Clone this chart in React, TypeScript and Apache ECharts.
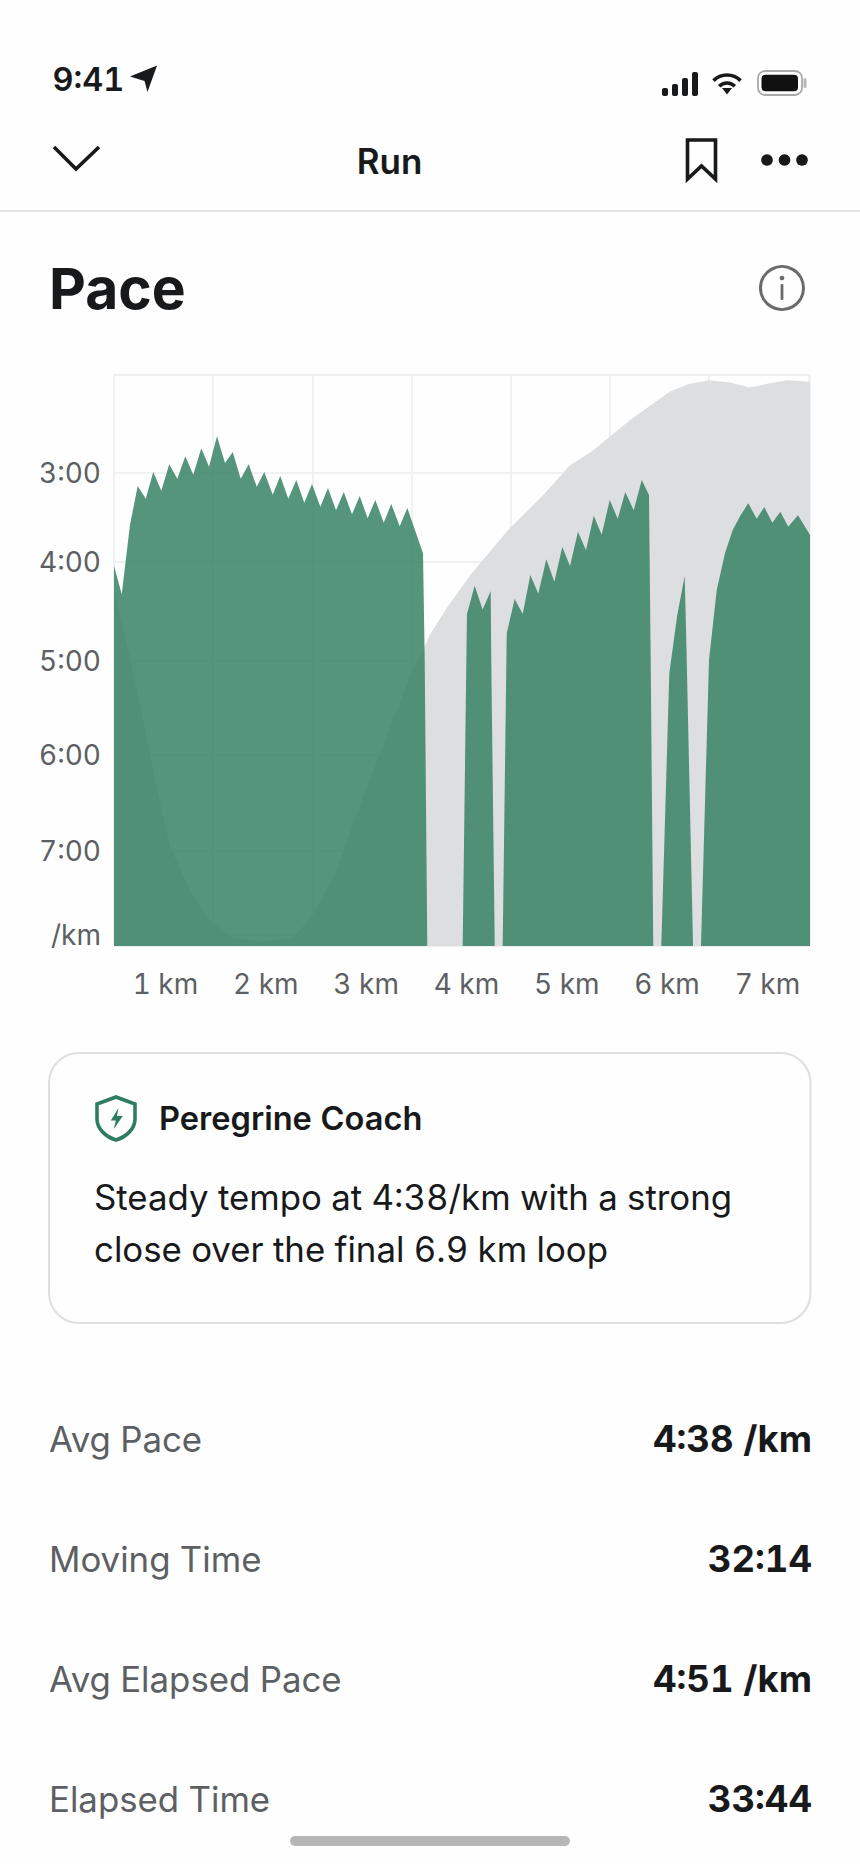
import React, { useEffect, useRef } from 'react';
import * as echarts from 'echarts';

// pace trace: km along the run, minutes per km (8.294 = stopped, the bottom of the axis)
const paceKm = [
	0, 0.078, 0.161, 0.239, 0.32, 0.396, 0.477, 0.557, 0.638, 0.719, 0.799, 0.88, 0.958, 1.038, 1.119, 1.197, 1.277,
	1.358, 1.439, 1.515, 1.6, 1.676, 1.757, 1.838, 1.918, 1.996, 2.08, 2.157, 2.238, 2.316, 2.399, 2.477, 2.557, 2.634,
	2.719, 2.795, 2.88, 2.957, 3.115, 3.132, 3.158, 3.515, 3.558, 3.636, 3.716, 3.797, 3.803, 3.838, 3.918, 3.959,
	4.039, 4.12, 4.197, 4.277, 4.358, 4.439, 4.519, 4.597, 4.677, 4.758, 4.836, 4.916, 4.997, 5.078, 5.154, 5.239, 5.32,
	5.393, 5.41, 5.436, 5.517, 5.598, 5.678, 5.753, 5.771, 5.837, 5.917, 5.998, 6.076, 6.159, 6.237, 6.318, 6.394,
	6.479, 6.555, 6.636, 6.717, 6.797, 6.895, 7.016,
];
const paceMin = [
	4.044, 4.36, 3.585, 3.149, 3.291, 2.992, 3.201, 2.906, 3.067, 2.817, 3.022, 2.727, 2.933, 2.593, 2.891, 2.768, 3.067,
	2.906, 3.157, 2.992, 3.246, 3.037, 3.291, 3.082, 3.336, 3.126, 3.38, 3.171, 3.421, 3.216, 3.465, 3.261, 3.51, 3.305,
	3.559, 3.35, 3.6, 3.395, 3.902, 5.095, 8.294, 8.294, 4.581, 4.264, 4.532, 4.323, 5.095, 8.294, 8.294, 4.796,
	4.413, 4.581, 4.144, 4.353, 3.969, 4.219, 3.831, 4.044, 3.66, 3.868, 3.481, 3.694, 3.305, 3.515, 3.216, 3.421, 3.082,
	3.249, 5.095, 8.294, 8.294, 5.24, 4.592, 4.155, 4.983, 8.294, 8.294, 5.095, 4.312, 3.902, 3.641, 3.473, 3.342,
	3.515, 3.384, 3.559, 3.436, 3.604, 3.477, 3.697,
];

// elevation behind the pace trace, on a hidden 0-100 scale
const elevKm = [
	0, 0.06, 0.144, 0.279, 0.43, 0.565, 0.766, 0.934, 1.2, 1.472, 1.804, 2.006, 2.245, 2.51, 2.749, 2.984, 3.132, 3.185,
	3.354, 3.606, 3.975, 4.328, 4.597, 4.816, 5.202, 5.605, 5.79, 5.998, 6.21, 6.405, 6.595, 6.781, 7.016,
];
const elevM = [
	62.3, 57.7, 51.9, 40.8, 27.9, 17.4, 9.8, 5.1, 1.4, 0.8, 1.4, 5.4, 13.3, 26.1, 36.7, 47.2, 52.4, 54.5, 59.2, 65.3,
	72.9, 79, 84.2, 86.6, 92.1, 97.1, 98.4, 99.1, 98.7, 97.8, 98.5, 99.1, 98.8,
];

const kmLabels = ['1 km', '2 km', '3 km', '4 km', '5 km', '6 km', '7 km'];
const paceTicks = [3, 4, 5.106, 6.158, 7.232, 8.171];
const paceTickLabels = ['3:00', '4:00', '5:00', '6:00', '7:00', '/km'];

const statLabels = ['Avg Pace', 'Moving Time', 'Avg Elapsed Pace', 'Elapsed Time'];
const statValues = ['4:38 /km', '32:14', '4:51 /km', '33:44'];

const INK = '#17191b';
const MUTED = '#5d6063';
const GREEN = '#2f7d61';
const FONT = 'Inter';

echarts.graphic.registerShape(
	'coachShield',
	echarts.graphic.extendPath('M21 2 L40 9 V24 C40 34 31 42 21 45 C11 42 2 34 2 24 V9 Z', {})
);

const label = (text: string, x: number, y: number, fontSize: number, fontWeight: number, fill: string, align = 'left') => ({
	type: 'text',
	x,
	y,
	style: { text, fontSize, fontWeight, fill, fontFamily: FONT, align, verticalAlign: 'middle' },
});

const bar = (x: number, y: number, width: number, height: number, r: number, fill: string) => ({
	type: 'rect',
	shape: { x, y, width, height, r },
	style: { fill },
});

const buildChrome = () => {
	const stroke = { stroke: INK, lineWidth: 3.6, fill: 'none' };
	return [
		label('9:41', 52.5, 79, 32.5, 600, INK),
		{ type: 'polygon', shape: { points: [[157, 65.5], [130, 76.5], [144.5, 81], [147.5, 92]] }, style: { fill: INK } },
		bar(662, 88, 6, 8, 2, INK),
		bar(672, 84, 6, 12, 2, INK),
		bar(682, 78, 6, 18, 2, INK),
		bar(692, 72, 6, 24, 2, INK),
		{ type: 'arc', shape: { cx: 727, cy: 94, r: 19, startAngle: -2.36, endAngle: -0.78 }, style: { stroke: INK, lineWidth: 3.6, fill: 'none' } },
		{ type: 'arc', shape: { cx: 727, cy: 94, r: 11, startAngle: -2.36, endAngle: -0.78 }, style: { stroke: INK, lineWidth: 3.6, fill: 'none' } },
		{ type: 'polygon', shape: { points: [[722, 88], [732, 88], [727, 94.5]] }, style: { fill: INK } },
		{ type: 'rect', shape: { x: 758, y: 71, width: 44, height: 24, r: 7 }, style: { stroke: '#a9a9a9', lineWidth: 1.8, fill: 'none' } },
		bar(761.5, 74.7, 36.5, 16.5, 4, '#111111'),
		bar(803.5, 78, 3, 10, 1.5, '#b8b8b8'),

		{ type: 'polyline', shape: { points: [[54, 147], [76, 169], [99, 147]] }, style: { stroke: INK, lineWidth: 3.6, fill: 'none' } },
		label('Run', 389.5, 160.5, 35, 600, INK, 'center'),
		{ type: 'polygon', shape: { points: [[687.5, 140], [715.5, 140], [715.5, 179], [701.5, 166], [687.5, 179]] }, style: stroke },
		{ type: 'circle', shape: { cx: 767, cy: 160, r: 5.8 }, style: { fill: INK } },
		{ type: 'circle', shape: { cx: 784.5, cy: 160, r: 5.8 }, style: { fill: INK } },
		{ type: 'circle', shape: { cx: 802, cy: 160, r: 5.8 }, style: { fill: INK } },
		bar(0, 210, 860, 2, 0, '#e4e4e4'),

		label('Pace', 49, 288, 57, 700, INK),
		{ type: 'circle', shape: { cx: 782, cy: 288, r: 21.5 }, style: { stroke: '#6a6a6a', lineWidth: 3, fill: 'none' } },
		{ type: 'circle', shape: { cx: 782, cy: 278, r: 2.3 }, style: { fill: '#6a6a6a' } },
		bar(780.6, 284, 2.8, 16, 1, '#6a6a6a'),

		{ type: 'rect', shape: { x: 49, y: 1053, width: 761.5, height: 270, r: 30 }, style: { stroke: '#dfdfdf', lineWidth: 2, fill: '#fefefe' } },
		{ type: 'coachShield', x: 95, y: 1095, style: { stroke: GREEN, lineWidth: 3.6, fill: 'none' } },
		{ type: 'polygon', shape: { points: [[118.5, 1108], [110.8, 1120.5], [115.8, 1120.5], [113.8, 1129], [122.8, 1116], [117, 1116]] }, style: { fill: GREEN } },
		label('Peregrine Coach', 159, 1118, 32.6, 600, INK),
		label('Steady tempo at 4:38/km with a strong', 94, 1197, 34.8, 400, INK),
		label('close over the final 6.9 km loop', 94, 1249, 34.8, 400, INK),

		...statLabels.map((text, i) => label(text, 49, 1439 + i * 120, 34.8, 400, MUTED)),
		...statValues.map((text, i) => label(text, 812, 1439 + i * 120, 36.5, 700, INK, 'right')),

		bar(290, 1836, 280, 10, 5, '#b6b6b6'),
	];
};

const App: React.FC = () => {
	const chartContainer = useRef<HTMLDivElement | null>(null);

	useEffect(() => {
		if (!chartContainer.current) return;
		const chart = echarts.init(chartContainer.current, undefined, { renderer: 'svg' });
		const axisText = { color: MUTED, fontFamily: FONT, fontSize: 28 };

		chart.setOption({
			animation: false,
			backgroundColor: '#fefefe',
			grid: [
				{ left: 114, top: 375, width: 696, height: 571, show: true, borderColor: '#eeeff0', borderWidth: 2 },
				// only carries the km labels, which sit mid-km and a little wider than the grid lines
				{ left: 115.3, top: 946, width: 702.3, height: 1 },
			],
			xAxis: [
				{
					type: 'value',
					gridIndex: 0,
					min: 0,
					max: 7.016,
					interval: 1,
					axisLine: { show: false },
					axisTick: { show: false },
					axisLabel: { show: false },
					splitLine: { lineStyle: { color: '#f0f1f2', width: 2 } },
				},
				{
					type: 'category',
					gridIndex: 1,
					data: kmLabels,
					axisLine: { show: false },
					axisTick: { show: false },
					axisLabel: { ...axisText, margin: 23, interval: 0 },
				},
			],
			yAxis: [
				{
					type: 'value',
					gridIndex: 0,
					inverse: true,
					min: 1.907,
					max: 8.294,
					axisLine: { show: false },
					axisTick: { show: false, customValues: paceTicks },
					axisLabel: {
						...axisText,
						margin: 13,
						customValues: paceTicks,
						formatter: (value: number) => paceTickLabels[paceTicks.indexOf(value)],
					},
					splitLine: { lineStyle: { color: '#f0f1f2', width: 2 } },
				},
				{ type: 'value', gridIndex: 0, min: 0, max: 100, show: false, splitLine: { show: false } },
				{ type: 'value', gridIndex: 1, show: false },
			],
			series: [
				{
					name: 'Elevation',
					type: 'line',
					xAxisIndex: 0,
					yAxisIndex: 1,
					data: elevKm.map((km, i) => [km, elevM[i]]),
					showSymbol: false,
					lineStyle: { width: 0 },
					areaStyle: { color: '#dcdee0', opacity: 1, origin: 'start' },
				},
				{
					name: 'Pace',
					type: 'line',
					xAxisIndex: 0,
					yAxisIndex: 0,
					data: paceKm.map((km, i) => [km, paceMin[i]]),
					showSymbol: false,
					lineStyle: { width: 0 },
					areaStyle: { color: '#328062', opacity: 0.83, origin: 'end' },
				},
			],
			graphic: { elements: buildChrome() },
		});

		return () => {
			chart.dispose();
		};
	}, []);

	return (
		<div
			ref={chartContainer}
			style={{ position: 'absolute', left: 0, top: 0, width: '860px', height: '1864px', fontVariantNumeric: 'tabular-nums' }}
		/>
	);
};

export default App;
